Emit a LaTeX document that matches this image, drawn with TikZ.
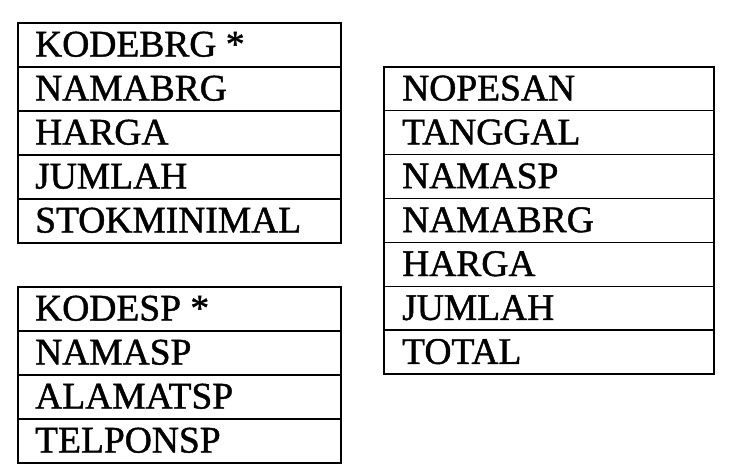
\documentclass[tikz,border=0pt]{standalone}
\usepackage{fontspec}
\setmainfont[FakeBold=1.2]{Liberation Serif}
\usetikzlibrary{positioning}

\tikzset{
	cell/.style={draw, line width=1.5pt, anchor=north west, minimum height=44pt, inner sep=0pt},
	lbl/.style={anchor=base west, inner sep=0pt, font=\fontsize{37.5}{40}\selectfont}
}

\begin{document}
\begin{tikzpicture}[x=1pt, y=-1pt]
	\useasboundingbox (0,0) rectangle (730,475);

	% tabel barang
	\foreach \i/\l in {1/KODEBRG *, 2/NAMABRG, 3/HARGA, 4/JUMLAH, 5/STOKMINIMAL}{
		\node[cell, minimum width=323pt] (brg\i) at (17, {22+44*(\i-1)}) {};
		\node[lbl] (brgl\i) at ([xshift=18pt, yshift=11pt] brg\i.south west) {\l};
	}

	% tabel supplier
	\foreach \i/\l in {1/KODESP *, 2/NAMASP, 3/ALAMATSP, 4/TELPONSP}{
		\node[cell, minimum width=323pt] (sp\i) at (17, {286+44*(\i-1)}) {};
		\node[lbl] (spl\i) at ([xshift=18pt, yshift=11pt] sp\i.south west) {\l};
	}

	% tabel pesan
	\foreach \i/\l in {1/NOPESAN, 2/TANGGAL, 3/NAMASP, 4/NAMABRG, 5/HARGA, 6/JUMLAH, 7/TOTAL}{
		\node[cell, minimum width=330pt, minimum height=43.9pt] (psn\i) at (383, {66+43.9*(\i-1)}) {};
		\node[lbl] (psnl\i) at ([xshift=19pt, yshift=11pt] psn\i.south west) {\l};
	}
\end{tikzpicture}
\end{document}
